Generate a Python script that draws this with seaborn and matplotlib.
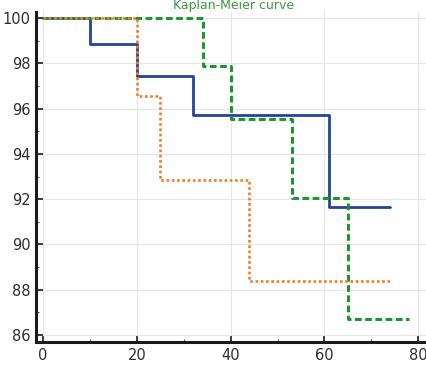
"""
Courbe de Kaplan-Meier (trois groupes)
"""

import pandas as pd
import matplotlib
matplotlib.use('Agg')
import matplotlib.pyplot as plt
import seaborn as sns
from matplotlib.ticker import MultipleLocator

# =============================================================================
# DONNÉES
# =============================================================================

blue_time = [0, 10, 20, 32, 61, 74]
blue_surv = [100, 98.85, 97.45, 95.7, 91.65, 91.65]

orange_time = [0, 20, 25, 44, 74]
orange_surv = [100, 96.55, 92.85, 88.4, 88.4]

green_time = [0, 34, 40, 53, 65, 78]
green_surv = [100, 97.9, 95.55, 92.05, 86.7, 86.7]

x_ticks = [0, 20, 40, 60, 80]
y_ticks = [86, 88, 90, 92, 94, 96, 98, 100]

title = 'Kaplan-Meier curve'

# =============================================================================
# FIGURE
# =============================================================================

sns.set_theme(style='white')
plt.rcParams['font.family'] = ['DejaVu Sans']

fig = plt.figure(figsize=(4.27, 3.74), dpi=100)
ax = fig.add_axes([36 / 427, (374 - 342) / 374, (430 - 36) / 427, (342 - 12) / 374])

series = [
    ('blue', blue_time, blue_surv, '#23449a', '-', 2.0),
    ('green', green_time, green_surv, '#16962a', (0, (2.3, 1.2)), 2.1),
    ('orange', orange_time, orange_surv, '#f07d2c', (0, (1, 1)), 1.9),
]
for name, t, s, color, ls, lw in series:
    df = pd.DataFrame({'time': t, 'surv': s})
    sns.lineplot(data=df, x='time', y='surv', ax=ax, color=color,
                 linestyle=ls, linewidth=lw, drawstyle='steps-post',
                 estimator=None, legend=False)

ax.set_xlim(-1.5, 82.5)
ax.set_ylim(85.69, 100.27)
ax.set_xticks(x_ticks)
ax.set_yticks(y_ticks)
ax.xaxis.set_minor_locator(MultipleLocator(10))
ax.yaxis.set_minor_locator(MultipleLocator(1))
ax.set_xlabel('')
ax.set_ylabel('')

ax.grid(True, which='major', color='#e6e6e6', linewidth=0.8)
ax.set_axisbelow(True)

for side in ['top', 'right']:
    ax.spines[side].set_visible(False)
for side in ['left', 'bottom']:
    ax.spines[side].set_linewidth(2.2)
    ax.spines[side].set_color('#1a1a1a')

ax.tick_params(which='major', direction='in', length=5, width=1.2,
               color='#1a1a1a', labelsize=10.5, labelcolor='#2e2e2e', pad=4)
ax.tick_params(which='minor', direction='in', length=2.5, width=0.8,
               color='#555555')
ax.tick_params(axis='x', bottom=True, which='both')
ax.tick_params(axis='y', left=True, which='both')

fig.text(234 / 427, 1 - 9.5 / 374, title, ha='center', va='baseline',
         fontsize=9, color='#3a9a3a')

fig.savefig('out.png', dpi=100)
